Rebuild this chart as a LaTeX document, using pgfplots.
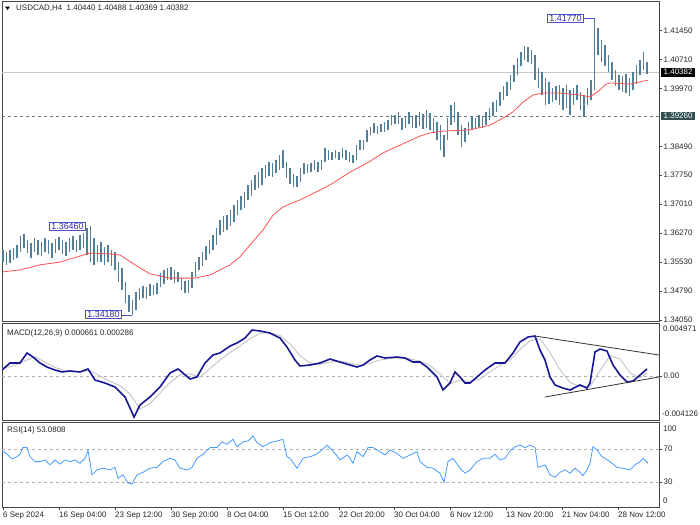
\documentclass[border=0pt]{standalone}
\usepackage{pgfplots}
\pgfplotsset{compat=1.18}
\usepackage{pgfplotstable}
\usepackage{fontspec}
\setmainfont{Liberation Sans}

\definecolor{barcol}{RGB}{84,126,152}
\definecolor{macol}{RGB}{255,80,80}
\definecolor{macdcol}{RGB}{22,22,150}
\definecolor{sigcol}{RGB}{200,200,200}
\definecolor{rsicol}{RGB}{70,155,255}
\definecolor{framecol}{RGB}{70,70,70}
\definecolor{lvlcol}{RGB}{95,125,125}
\definecolor{boxcol}{RGB}{80,80,200}
\definecolor{boxtext}{RGB}{50,50,170}
\definecolor{slatecol}{RGB}{50,80,80}
\definecolor{dashcol}{RGB}{175,175,175}

\newcommand\lbl{\fontsize{8}{9.6}\selectfont}

% H4 bars, two bars per row: x position, high, low
\pgfplotstableread{
x h l
3 1.3584 1.3553
6.5 1.3579 1.3546
10 1.3584 1.3551
13.5 1.3589 1.3558
17 1.3597 1.3563
20.5 1.3620 1.3579
24 1.3625 1.3589
27.5 1.3610 1.3576
31 1.3602 1.3563
34.5 1.3615 1.3579
38 1.3610 1.3571
41.5 1.3604 1.3569
45 1.3615 1.3579
48.5 1.3610 1.3574
52 1.3602 1.3563
55.5 1.3612 1.3576
59 1.3617 1.3584
62.5 1.3610 1.3574
66 1.3604 1.3569
69.5 1.3615 1.3579
73 1.3620 1.3584
76.5 1.3610 1.3579
80 1.3622 1.3584
83.5 1.3627 1.3589
87 1.3640 1.3571
90.5 1.3646 1.3553
94 1.3615 1.3546
97.5 1.3597 1.3553
101 1.3604 1.3553
104.5 1.3592 1.3546
108 1.3597 1.3553
111.5 1.3584 1.3543
115 1.3579 1.3533
118.5 1.3553 1.3502
122 1.3538 1.3482
125.5 1.3502 1.3448
129 1.3469 1.3425
132.5 1.3456 1.3418
136 1.3477 1.3431
139.5 1.3487 1.3456
143 1.3492 1.3461
146.5 1.3489 1.3459
150 1.3497 1.3466
153.5 1.3494 1.3469
157 1.3500 1.3471
160.5 1.3525 1.3489
164 1.3533 1.3497
167.5 1.3538 1.3507
171 1.3540 1.3507
174.5 1.3533 1.3500
178 1.3528 1.3502
181.5 1.3512 1.3482
185 1.3505 1.3474
188.5 1.3507 1.3474
192 1.3528 1.3487
195.5 1.3553 1.3515
199 1.3566 1.3533
202.5 1.3579 1.3543
206 1.3594 1.3558
209.5 1.3610 1.3574
213 1.3622 1.3584
216.5 1.3640 1.3597
220 1.3661 1.3622
223.5 1.3671 1.3630
227 1.3673 1.3635
230.5 1.3686 1.3645
234 1.3699 1.3656
237.5 1.3712 1.3673
241 1.3722 1.3686
244.5 1.3732 1.3691
248 1.3750 1.3712
251.5 1.3763 1.3722
255 1.3776 1.3737
258.5 1.3783 1.3742
262 1.3793 1.3750
265.5 1.3801 1.3768
269 1.3809 1.3773
272.5 1.3806 1.3771
276 1.3814 1.3781
279.5 1.3827 1.3788
283 1.3840 1.3793
286.5 1.3809 1.3768
290 1.3793 1.3753
293.5 1.3778 1.3745
297 1.3773 1.3745
300.5 1.3793 1.3758
304 1.3806 1.3778
307.5 1.3804 1.3781
311 1.3806 1.3783
314.5 1.3814 1.3788
318 1.3809 1.3783
321.5 1.3814 1.3788
325 1.3845 1.3809
328.5 1.3840 1.3814
332 1.3834 1.3814
335.5 1.3840 1.3819
339 1.3834 1.3814
342.5 1.3845 1.3819
346 1.3840 1.3814
349.5 1.3834 1.3809
353 1.3827 1.3806
356.5 1.3852 1.3814
360 1.3865 1.3840
363.5 1.3865 1.3840
367 1.3891 1.3860
370.5 1.3898 1.3878
374 1.3909 1.3883
377.5 1.3901 1.3880
381 1.3906 1.3886
384.5 1.3911 1.3886
388 1.3916 1.3891
391.5 1.3929 1.3903
395 1.3929 1.3906
398.5 1.3937 1.3906
402 1.3921 1.3891
405.5 1.3926 1.3896
409 1.3937 1.3906
412.5 1.3926 1.3896
416 1.3929 1.3896
419.5 1.3937 1.3901
423 1.3932 1.3893
426.5 1.3942 1.3896
430 1.3934 1.3891
433.5 1.3921 1.3883
437 1.3911 1.3865
440.5 1.3903 1.3840
444 1.3878 1.3822
447.5 1.3921 1.3865
451 1.3955 1.3903
454.5 1.3962 1.3911
458 1.3937 1.3878
461.5 1.3903 1.3847
465 1.3896 1.3860
468.5 1.3911 1.3878
472 1.3924 1.3891
475.5 1.3921 1.3896
479 1.3929 1.3898
482.5 1.3926 1.3896
486 1.3937 1.3903
489.5 1.3947 1.3916
493 1.3962 1.3926
496.5 1.3967 1.3937
500 1.3988 1.3952
503.5 1.4003 1.3967
507 1.4013 1.3978
510.5 1.4031 1.3993
514 1.4057 1.4013
517.5 1.4075 1.4031
521 1.4090 1.4054
524.5 1.4105 1.4070
528 1.4103 1.4064
531.5 1.4095 1.4059
535 1.4082 1.4018
538.5 1.4049 1.3998
542 1.4039 1.3980
545.5 1.4024 1.3955
549 1.4013 1.3957
552.5 1.3998 1.3962
556 1.4003 1.3967
559.5 1.4006 1.3955
563 1.3998 1.3942
566.5 1.4006 1.3947
570 1.3993 1.3929
573.5 1.3998 1.3955
577 1.4006 1.3967
580.5 1.3988 1.3942
584 1.3980 1.3924
587.5 1.3998 1.3955
591 1.4018 1.3967
594.5 1.4177 1.3993
598 1.4151 1.4082
601.5 1.4121 1.4064
605 1.4108 1.4054
608.5 1.4082 1.4039
612 1.4064 1.4018
615.5 1.4044 1.4003
619 1.4031 1.3993
622.5 1.4029 1.3988
626 1.4034 1.3985
629.5 1.4024 1.3978
633 1.4039 1.3993
636.5 1.4057 1.4008
640 1.4070 1.4031
643.5 1.4090 1.4044
647 1.4064 1.4034
}\bars

\pgfplotstableread{
x y
3 1.3528
20 1.3533
40 1.3546
60 1.3553
90 1.3576
110 1.3574
120 1.3571
135 1.3546
150 1.3523
170 1.3512
195 1.3512
210 1.3520
230 1.3546
240 1.3566
250 1.3597
263 1.3635
273 1.3673
283 1.3694
300 1.3712
320 1.3737
333 1.3755
350 1.3783
367 1.3806
383 1.3832
400 1.3852
420 1.3875
430 1.3883
445 1.3888
470 1.3891
490 1.3903
503 1.3921
513 1.3937
523 1.3962
533 1.3980
543 1.3985
560 1.3985
580 1.3980
590 1.3975
600 1.3993
605 1.4006
610 1.4011
630 1.4008
648 1.4018
}\ma

\pgfplotstableread{
x y
2 0.00056
10 0.00122
20 0.00122
27 0.00216
33 0.00178
40 0.00122
47 0.00084
55 0.00056
62 0.00038
70 0.00047
80 0.00038
88 0.00066
95 -0.00038
105 -0.00066
115 -0.00103
120 -0.00150
125 -0.00197
130 -0.00300
134 -0.00385
140 -0.00272
150 -0.00197
160 -0.00103
170 0.00028
178 0.00066
183 0.00028
190 -0.00028
197 -0.00009
205 0.00122
213 0.00197
220 0.00216
230 0.00281
237 0.00310
245 0.00356
252 0.00431
260 0.00422
270 0.00403
280 0.00356
287 0.00272
295 0.00150
300 0.00094
310 0.00103
320 0.00122
330 0.00159
340 0.00131
350 0.00103
357 0.00084
363 0.00103
370 0.00150
377 0.00188
385 0.00169
397 0.00178
405 0.00169
413 0.00131
420 0.00131
427 0.00084
437 -0.00009
443 -0.00131
450 -0.00066
455 0.00038
460 -0.00009
465 -0.00066
470 -0.00066
477 -0.00009
485 0.00056
495 0.00122
505 0.00122
513 0.00216
520 0.00319
528 0.00366
535 0.00375
540 0.00244
545 0.00150
550 -0.00009
555 -0.00084
563 -0.00113
570 -0.00131
580 -0.00084
587 -0.00113
590 -0.00066
595 0.00225
600 0.00253
607 0.00234
613 0.00103
620 0.00009
627 -0.00056
633 -0.00047
640 0.00009
647 0.00066
}\macd

\pgfplotstableread{
x y
2 0.0007
15 0.0010
27 0.0015
35 0.0018
45 0.0013
55 0.0008
65 0.0005
80 0.0004
90 0.0005
100 0.0000
110 -0.0005
120 -0.0009
130 -0.0017
140 -0.0031
150 -0.0026
160 -0.0016
170 -0.0006
180 0.0001
190 0.0002
200 -0.0001
210 0.0007
220 0.0015
230 0.0022
240 0.0028
250 0.0035
260 0.0040
268 0.0041
280 0.0038
290 0.0030
300 0.0019
310 0.0012
320 0.0011
330 0.0013
340 0.0014
350 0.0012
360 0.0010
370 0.0012
380 0.0015
395 0.0017
410 0.0016
420 0.0014
430 0.0010
440 0.0002
450 -0.0007
460 -0.0004
470 -0.0005
480 -0.0003
490 0.0004
500 0.0010
510 0.0015
520 0.0025
530 0.0033
540 0.0035
550 0.0022
560 0.0006
570 -0.0006
580 -0.0010
590 -0.0010
600 0.0005
610 0.0019
620 0.0016
630 0.0003
640 -0.0002
647 0.00029
}\signal

\pgfplotstableread{
x y
2 68
5 66
8 63
12 58
17 61
20 64
23 72
27 72
30 61
35 55
40 55
45 57
50 51
55 57
60 52
65 57
70 55
75 57
80 53
85 59
88 69
92 39
97 45
103 47
110 45
115 48
118 35
123 39
128 29
132 28
137 39
143 42
150 47
157 48
163 55
170 59
175 57
180 47
187 45
192 48
197 59
203 64
210 72
217 72
222 79
227 76
233 82
237 73
243 79
248 80
253 86
257 78
263 73
270 78
277 80
283 82
287 61
290 59
297 47
303 59
310 61
315 63
320 67
327 75
333 68
340 57
347 63
350 59
353 53
357 67
363 61
368 72
373 72
380 67
385 63
390 69
397 65
403 59
410 63
417 67
420 55
427 48
433 47
440 41
444 30
448 55
453 59
460 47
465 41
470 45
477 55
483 59
490 59
495 64
500 57
505 59
510 68
515 73
520 75
525 72
530 75
535 72
538 48
545 51
550 39
555 36
560 42
565 45
570 41
575 47
580 42
583 38
587 45
590 53
593 73
597 69
602 61
610 55
617 48
623 47
630 45
635 51
640 55
643 59
648 53
}\rsi

\pgfplotsset{
  panel/.style={
    scale only axis, width=657bp, xmin=2, xmax=659,
    axis line style={draw=framecol, line width=0.8bp},
    xtick=\empty, ytick pos=right, yticklabel pos=right,
    tick align=outside, major tick length=3bp,
    tick style={draw=framecol, line width=0.6bp},
    yticklabel style={font=\lbl, text=black!85, inner xsep=1.5bp},
    scaled y ticks=false, scaled x ticks=false,
    clip mode=individual,
  }
}

\begin{document}
\begin{tikzpicture}
\useasboundingbox (0,0) rectangle (700bp,-525bp);

% title
\fill[black] (5bp,-6.5bp) -- (10bp,-6.5bp) -- (7.5bp,-10bp) -- cycle;
\node[anchor=west, inner sep=0, font=\lbl, text=black!85] at (16bp,-8.5bp) {USDCAD,H4\ \ 1.40440 1.40488 1.40369 1.40382};

% price panel
\begin{axis}[panel, at={(2bp,-321bp)}, anchor=south west, height=320bp,
  ymin=1.34024, ymax=1.42203,
  ytick={1.3405,1.3479,1.3553,1.3627,1.3701,1.3775,1.3849,1.3997,1.4071,1.4145},
  yticklabels={1.34050,1.34790,1.35530,1.36270,1.37010,1.37750,1.38490,1.39970,1.40710,1.41450}]
  \addplot[sigcol, line width=1.2bp, forget plot] coordinates {(2,1.40382) (659,1.40382)};
  \addplot[lvlcol, line width=0.8bp, dash pattern=on 3bp off 3bp, forget plot] coordinates {(2,1.3926) (659,1.3926)};
  \addplot[draw=none, mark=none, forget plot,
    error bars/.cd, y dir=plus, y explicit, error mark=none,
    error bar style={draw=barcol, line width=1.9bp}]
    table[x=x, y=l, y error expr=\thisrow{h}-\thisrow{l}] {\bars};
  \addplot[macol, line width=0.8bp, forget plot] table[x=x, y=y] {\ma};
  % high / low markers
  \draw[boxcol, line width=0.8bp] (axis cs:122,1.3418) -- (axis cs:132,1.3418);
  \draw[boxcol, line width=0.8bp] (axis cs:584,1.4177) -- (axis cs:594.5,1.4177);
  \node[draw=boxcol, fill=white, text=boxtext, line width=0.8bp, inner xsep=2bp, inner ysep=1bp, font=\fontsize{9}{10}\selectfont] at (axis cs:67.5,1.3645) {1.36460};
  \node[draw=boxcol, fill=white, text=boxtext, line width=0.8bp, inner xsep=2bp, inner ysep=1bp, font=\fontsize{9}{10}\selectfont] at (axis cs:103.5,1.3420) {1.34180};
  \node[draw=boxcol, fill=white, text=boxtext, line width=0.8bp, inner xsep=2bp, inner ysep=1bp, font=\fontsize{9}{10}\selectfont] at (axis cs:565.5,1.4176) {1.41770};
  % value boxes on the scale
  \node[fill=black, text=white, anchor=west, inner xsep=2.5bp, inner ysep=1.5bp, font=\lbl] at (axis cs:661,1.40382) {1.40382};
  \node[fill=slatecol, text=white, anchor=west, inner xsep=2.5bp, inner ysep=1.5bp, font=\lbl] at (axis cs:661,1.3926) {1.39260};
\end{axis}

% MACD panel
\begin{axis}[panel, at={(2bp,-420bp)}, anchor=south west, height=97bp,
  ymin=-0.004126, ymax=0.004971, ytick={0}, yticklabels={0.00}]
  \addplot[dashcol, line width=0.7bp, dash pattern=on 3bp off 3bp, forget plot] coordinates {(2,0) (659,0)};
  \addplot[sigcol, line width=1bp, forget plot] table[x=x, y=y] {\signal};
  \addplot[macdcol, line width=1.6bp, forget plot] table[x=x, y=y] {\macd};
  \addplot[black!80, line width=0.8bp, forget plot] coordinates {(535,0.00375) (659,0.00197)};
  \addplot[black!80, line width=0.8bp, forget plot] coordinates {(545,-0.00197) (659,-0.00009)};
  \node[anchor=west, inner sep=0, font=\lbl, text=black!85] at ([xshift=5bp,yshift=-10bp]axis description cs:0,1) {MACD(12,26,9) 0.000661 0.000286};
  \node[anchor=west, inner sep=0, font=\lbl, text=black!85] at ([xshift=4bp,yshift=-6bp]axis description cs:1,1) {0.004971};
  \node[anchor=west, inner sep=0, font=\lbl, text=black!85] at ([xshift=3bp,yshift=6bp]axis description cs:1,0) {-0.004126};
\end{axis}

% RSI panel
\begin{axis}[panel, at={(2bp,-507bp)}, anchor=south west, height=85bp,
  ymin=0, ymax=103, ytick={30,70}, yticklabels={30,70},
  xtick={3,59,115,171,227,283,339,394,450,506,562,618},
  xticklabels={6 Sep 2024,16 Sep 04:00,23 Sep 12:00,30 Sep 20:00,8 Oct 04:00,15 Oct 12:00,22 Oct 20:00,30 Oct 04:00,6 Nov 12:00,13 Nov 20:00,21 Nov 04:00,28 Nov 12:00},
  xtick pos=bottom,
  xticklabel style={font=\lbl, text=black!85, anchor=north west, inner xsep=0pt, inner ysep=1.5bp}]
  \addplot[dashcol, line width=0.7bp, dash pattern=on 3bp off 3bp, forget plot] coordinates {(2,70) (659,70)};
  \addplot[dashcol, line width=0.7bp, dash pattern=on 3bp off 3bp, forget plot] coordinates {(2,30) (659,30)};
  \addplot[rsicol, line width=0.8bp, forget plot] table[x=x, y=y] {\rsi};
  \node[anchor=west, inner sep=0, font=\lbl, text=black!85] at ([xshift=5bp,yshift=-8bp]axis description cs:0,1) {RSI(14) 53.0808};
  \node[anchor=west, inner sep=0, font=\lbl, text=black!85] at ([xshift=4bp,yshift=-7bp]axis description cs:1,1) {100};
  \node[anchor=west, inner sep=0, font=\lbl, text=black!85] at ([xshift=4bp,yshift=6bp]axis description cs:1,0) {0};
\end{axis}
\end{tikzpicture}
\end{document}
